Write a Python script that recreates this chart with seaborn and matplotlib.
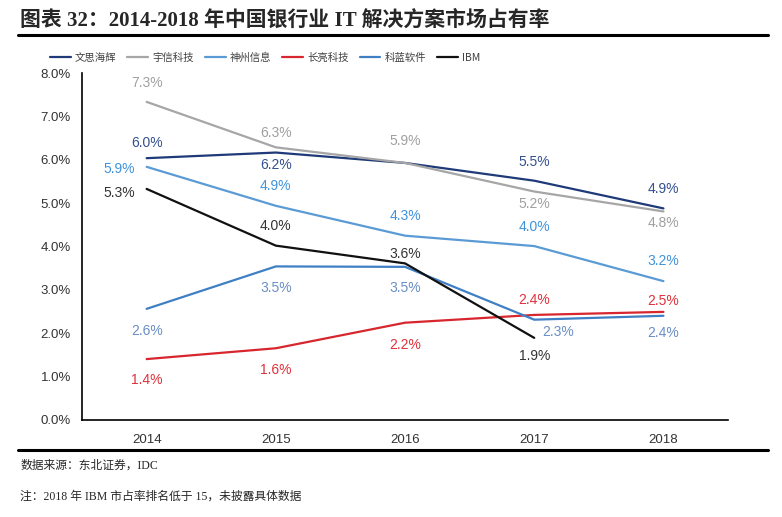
import numpy as np
import pandas as pd
import matplotlib
matplotlib.use("Agg")
import matplotlib.pyplot as plt
import seaborn as sns
from matplotlib.lines import Line2D

# Data (market share, %)
years = ["2014", "2015", "2016", "2017", "2018"]
companies = ["文思海辉", "宇信科技", "神州信息", "长亮科技", "科蓝软件", "IBM"]
wensi = [6.04, 6.17, 5.93, 5.52, 4.88]
yuxin = [7.34, 6.29, 5.93, 5.27, 4.81]
shenzhou = [5.84, 4.94, 4.25, 4.01, 3.20]
changliang = [1.40, 1.65, 2.24, 2.42, 2.49]
kelan = [2.56, 3.54, 3.53, 2.31, 2.40]
ibm = [5.33, 4.02, 3.61, 1.89, np.nan]
labels = {
    "文思海辉": ["6.0%", "6.2%", "5.9%", "5.5%", "4.9%"],
    "宇信科技": ["7.3%", "6.3%", "5.9%", "5.2%", "4.8%"],
    "神州信息": ["5.9%", "4.9%", "4.3%", "4.0%", "3.2%"],
    "长亮科技": ["1.4%", "1.6%", "2.2%", "2.4%", "2.5%"],
    "科蓝软件": ["2.6%", "3.5%", "3.5%", "2.3%", "2.4%"],
    "IBM": ["5.3%", "4.0%", "3.6%", "1.9%", None],
}

title = "图表 32：2014-2018 年中国银行业 IT 解决方案市场占有率"
source = "数据来源：东北证券，IDC"
note = "注：2018 年 IBM 市占率排名低于 15，未披露具体数据"

series = dict(zip(companies, [wensi, yuxin, shenzhou, changliang, kelan, ibm]))
df = pd.DataFrame([(c, y, v) for c in companies for y, v in zip(years, series[c])],
                  columns=["company", "year", "share"])

# styles
line_colors = ["#1F3A78", "#A6A6A6", "#5B9BD5", "#D7262E", "#3F7FC4", "#111111"]
text_colors = ["#34508F", "#A0A0A0", "#3F93DC", "#E0303A", "#6A8EC6", "#333333"]
# label offsets in pixels (dx, dy), y up
offsets = {
    "文思海辉": [(0, 15), (0, -12), (0, 0), (0, 19), (0, 19)],
    "宇信科技": [(0, 19), (0, 14), (0, 22), (0, -12), (0, -12)],
    "神州信息": [(-27, -2), (0, 20), (0, 20), (0, 19), (0, 20)],
    "长亮科技": [(0, -21), (0, -22), (0, -22), (0, 15), (0, 11)],
    "科蓝软件": [(0, -22), (0, -22), (0, -21), (24, -12), (0, -17)],
    "IBM": [(-27, -4), (0, 20), (0, 9), (0, -18), (0, 0)],
}

sns.set_theme(style="white")
plt.rcParams["font.family"] = ["Liberation Sans", "Noto Sans CJK SC", "DejaVu Sans"]

fig = plt.figure(figsize=(7.82, 5.17), dpi=100)
ax = fig.add_axes([0.1049, 0.1882, 0.8261, 0.6700])

sns.lineplot(data=df, x="year", y="share", hue="company", hue_order=companies,
             palette=line_colors, linewidth=1.6, ax=ax, legend=False, sort=False)

for ci, c in enumerate(companies):
    for i, v in enumerate(series[c]):
        lab = labels[c][i]
        if lab is None or np.isnan(v):
            continue
        if c == "文思海辉" and i == 2:
            continue
        dx, dy = offsets[c][i]
        ax.annotate(lab, (i, v), xytext=(dx, dy), textcoords="offset pixels",
                    ha="center", va="center", fontsize=10, color=text_colors[ci])

ax.set_xlim(-0.5, 4.5)
ax.set_ylim(0, 8)
ax.set_yticks(np.arange(0, 9, 1))
ax.set_yticklabels([f"{v:.1f}%" for v in np.arange(0, 9, 1)], fontsize=9.5, color="#333333")
ax.set_xticks(range(len(years)))
ax.set_xticklabels(years, fontsize=9.5, color="#333333",
                   family=["Liberation Sans Narrow", "Liberation Sans"])
ax.set_xticks(np.arange(-0.5, 5, 1), minor=True)
ax.tick_params(axis="x", which="major", length=0, pad=10)
ax.tick_params(axis="x", which="minor", length=4, width=1, color="black", direction="out")
ax.tick_params(axis="y", length=4, width=1, color="black", direction="out", pad=4)
ax.set_xlabel("")
ax.set_ylabel("")
for s in ["top", "right"]:
    ax.spines[s].set_visible(False)
for s in ["left", "bottom"]:
    ax.spines[s].set_color("black")
    ax.spines[s].set_linewidth(1.2)
ax.grid(False)

handles = [Line2D([0], [0], color=col, linewidth=1.6) for col in line_colors]
fig.legend(handles, companies, loc="center", bbox_to_anchor=(0.339, 0.888), ncol=6,
           frameon=False, handlelength=2.0, handletextpad=0.4,
           columnspacing=1.05, labelcolor="#404040",
           prop={"family": ["Noto Sans CJK SC", "DejaVu Sans"], "size": 7.5})

fig.text(0.026, 0.960, title, fontsize=15, fontweight="bold", va="center", ha="left",
         family=["Liberation Serif", "Noto Sans CJK SC"])
fig.add_artist(Line2D([0.023, 0.982], [0.932, 0.932], color="black", linewidth=2.2,
                      transform=fig.transFigure))
fig.add_artist(Line2D([0.023, 0.982], [0.129, 0.129], color="black", linewidth=2.2,
                      transform=fig.transFigure))
fig.text(0.026, 0.100, source, fontsize=8.5, va="center", ha="left",
         family=["Liberation Serif", "Noto Sans CJK SC"])
fig.text(0.026, 0.039, note, fontsize=8.5, va="center", ha="left",
         family=["Liberation Serif", "Noto Sans CJK SC"])

fig.savefig("out.png", dpi=100)
